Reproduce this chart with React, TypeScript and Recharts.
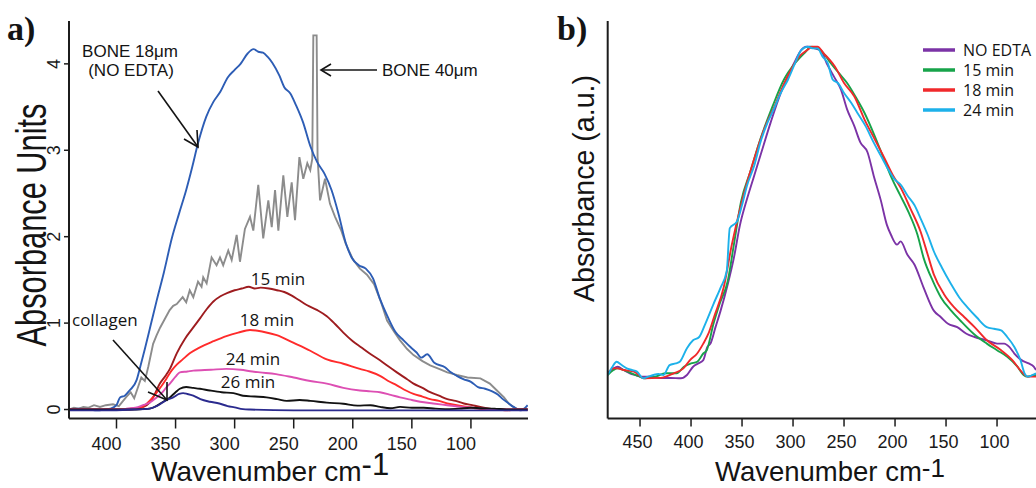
import React from 'react';
import { LineChart, Line, XAxis, YAxis } from 'recharts';

type Pt = [number, number];

// ---- panel a) absorbance units vs wavenumber (cm-1) ----
const bone18um: Pt[] = [
  [440, 0], [432, 0.01], [424, 0], [416, -0.01], [410, 0], [405, 0.01], [400, 0.05], [397, 0.14],
  [393, 0.16], [389, 0.22], [383, 0.34], [380, 0.49], [376, 0.7], [371, 0.98], [366, 1.26],
  [360, 1.58], [353, 1.99], [347, 2.27], [341, 2.54], [336, 2.8], [331, 3.08], [324, 3.39],
  [318, 3.56], [312, 3.68], [306, 3.84], [300, 3.93], [295, 4.0], [289, 4.12], [284, 4.17],
  [280, 4.14], [276, 4.13], [272, 4.08], [268, 4.01], [262, 3.86], [258, 3.73], [253, 3.66],
  [248, 3.52], [242, 3.32], [236, 3.05], [230, 2.86], [224, 2.73], [218, 2.54], [212, 2.26],
  [206, 1.93], [201, 1.76], [195, 1.67], [189, 1.63], [183, 1.52], [177, 1.28], [170, 1.06],
  [164, 0.9], [157, 0.8], [151, 0.72], [146, 0.66], [142, 0.6], [137, 0.64], [131, 0.54],
  [122, 0.49], [117, 0.43], [112, 0.39], [106, 0.35], [100, 0.32], [94, 0.26], [88, 0.24],
  [82, 0.21], [77, 0.17], [73, 0.12], [68, 0.07], [64, 0.03], [58, -0.01], [54, 0.02], [52, 0.05],
];

const bone40um: Pt[] = [
  [440, 0], [436, 0.02], [432, 0.01], [428, 0.03], [424, 0.02], [419, 0.05], [414, 0.03],
  [409, 0.05], [403, 0.06], [398, 0.04], [392, 0.14], [388, 0.2], [385, 0.13], [379, 0.37],
  [376, 0.33], [373, 0.5], [369, 0.76], [366, 0.86], [363, 0.95], [359, 1.05], [355, 1.15],
  [352, 1.2], [349, 1.22], [344, 1.3], [341, 1.24], [338, 1.38], [335, 1.3], [331, 1.48],
  [328, 1.42], [326.6, 1.53], [323.7, 1.46], [319.5, 1.76], [315.3, 1.67], [312.4, 1.76],
  [309.7, 1.67], [305.4, 1.84], [302.5, 1.73], [298.3, 2.02], [295.5, 1.71], [291.3, 2.09],
  [287, 2.23], [284.2, 2.07], [280, 2.6], [275.8, 1.98], [271.5, 2.42], [268.6, 2.11],
  [265.8, 2.54], [263, 2.07], [258.8, 2.71], [255.4, 2.23], [251.7, 2.63], [248.9, 2.19],
  [245.2, 2.92], [241.9, 2.67], [238.5, 2.85], [236, 2.77], [234.3, 2.9], [233.4, 4.33],
  [230.6, 4.33], [229.8, 2.92], [227.7, 2.42], [223.5, 2.67], [219.3, 2.38], [215, 2.23],
  [210, 2.08], [206, 1.92], [200, 1.74], [194, 1.63], [188, 1.56], [182, 1.45], [176, 1.24],
  [171, 1.03], [165, 0.9], [160, 0.8], [154, 0.7], [148.6, 0.63], [141, 0.56], [134.5, 0.51],
  [127, 0.47], [120, 0.43], [112, 0.4], [103, 0.37], [92, 0.36], [84, 0.3], [78, 0.22],
  [72, 0.14], [68, 0.07], [64, 0.03], [60, 0], [52, 0],
];

const min15: Pt[] = [
  [440, 0], [400, 0], [389, 0], [383, 0.01], [377.5, 0.03], [372, 0.08], [369, 0.14],
  [363.3, 0.3], [358, 0.4], [354.8, 0.47], [349, 0.65], [342, 0.82], [335, 0.95], [329, 1.06],
  [323.7, 1.16], [318, 1.25], [312, 1.31], [306, 1.35], [300, 1.38], [294, 1.4], [288, 1.42],
  [283, 1.4], [278, 1.41], [271, 1.4], [264, 1.38], [258, 1.36], [252, 1.32], [246, 1.27],
  [239, 1.21], [230, 1.15], [222, 1.08], [215, 0.99], [208, 0.89], [200, 0.79], [193, 0.72],
  [186, 0.65], [177, 0.57], [170, 0.5], [162.7, 0.43], [154, 0.35], [148.6, 0.3], [141, 0.25],
  [134.5, 0.2], [127, 0.16], [120, 0.12], [113, 0.1], [106, 0.07], [99, 0.05], [92, 0.03],
  [84, 0.01], [78, 0], [52, 0],
];

const min18: Pt[] = [
  [440, 0], [397, 0], [388, 0.01], [380, 0.02], [376, 0.05], [372, 0.1], [368, 0.16],
  [364.7, 0.22], [361, 0.29], [357.6, 0.36], [353.4, 0.45], [349, 0.52], [344, 0.58], [338, 0.65],
  [329.4, 0.72], [318, 0.79], [307, 0.85], [297, 0.89], [287, 0.92], [276, 0.9], [264.4, 0.86],
  [250, 0.77], [236, 0.68], [222, 0.58], [208, 0.53], [194, 0.47], [186, 0.44], [177, 0.39],
  [170, 0.33], [162.7, 0.28], [155, 0.22], [148.6, 0.18], [141, 0.15], [134.5, 0.12], [127, 0.1],
  [120, 0.07], [112, 0.05], [103, 0.03], [94, 0.01], [86, 0], [76, 0], [70, -0.01], [62, 0], [52, 0],
];

const min24: Pt[] = [
  [440, 0], [395, 0], [391.5, 0.01], [384, 0.02], [377.5, 0.05], [372, 0.08], [366, 0.14],
  [361, 0.2], [357.6, 0.26], [354.8, 0.3], [350, 0.38], [346.4, 0.43], [340, 0.44], [335, 0.45],
  [320, 0.46], [307, 0.47], [295, 0.46], [285, 0.44], [278.6, 0.43], [265, 0.41], [250, 0.37],
  [236, 0.33], [222, 0.3], [208, 0.25], [194, 0.22], [185, 0.21], [177, 0.2], [168, 0.17],
  [160, 0.14], [150, 0.11], [143, 0.09], [132, 0.07], [120, 0.05], [108, 0.03], [97.5, 0.02],
  [88, 0.01], [80, 0], [52, 0],
];

const min26: Pt[] = [
  [440, 0], [386, 0], [378, 0.005], [372, 0.01], [367, 0.035], [363.3, 0.066], [358, 0.11],
  [354.8, 0.14], [350, 0.2], [346.4, 0.24], [341, 0.26], [335, 0.25], [329.4, 0.24], [321, 0.22],
  [311, 0.2], [301, 0.19], [293, 0.16], [283, 0.15], [273, 0.14], [264, 0.12], [256, 0.1],
  [245, 0.11], [236, 0.1], [222, 0.08], [208, 0.066], [196, 0.045], [185, 0.05], [177, 0.03],
  [168, 0.015], [160, 0.03], [150, 0.02], [140, 0.02], [130, 0.01], [120, 0.005], [110, 0.01],
  [100, 0.02], [92, 0.015], [80, 0.01], [70, 0], [52, 0],
];

const collagen: Pt[] = [
  [440, -0.01], [414, -0.01], [385, 0], [372, 0.01], [366, 0.04], [360.5, 0.085], [356, 0.12],
  [352, 0.14], [347, 0.18], [343.6, 0.19], [340, 0.18], [335, 0.16], [329, 0.12], [321, 0.09],
  [313, 0.07], [306, 0.04], [300, 0.025], [293, 0.005], [287, 0], [250, -0.01], [200, -0.01],
  [150, -0.01], [100, -0.01], [52, -0.01],
];

// ---- panel b) normalised absorbance (a.u.) ----
const noEdta: Pt[] = [
  [481.7, 0.01], [476, 0.025], [472, 0.03], [466, 0.02], [460, 0.01], [455, 0.005], [449, 0],
  [440, 0], [430, -0.004], [420, -0.004], [410, -0.005], [404, 0.005], [398, 0.03], [393, 0.04],
  [388, 0.05], [384, 0.09], [381, 0.1], [376, 0.15], [371, 0.2], [364, 0.28], [358, 0.36],
  [352, 0.46], [345, 0.54], [339, 0.6], [332, 0.67], [322, 0.77], [312, 0.86], [305, 0.91],
  [299, 0.95], [292, 0.99], [287, 1.0], [283, 1.0], [279, 0.995], [273, 0.99], [267, 0.95],
  [260, 0.91], [253, 0.87], [247, 0.81], [240, 0.76], [234, 0.71], [227, 0.68], [221, 0.61],
  [214, 0.535], [208, 0.46], [204, 0.43], [198, 0.4], [194.5, 0.41], [188, 0.37], [181, 0.34],
  [172, 0.27], [162, 0.2], [155, 0.18], [148, 0.16], [139, 0.15], [130, 0.13], [122, 0.12],
  [110, 0.11], [100, 0.1], [93, 0.1], [88, 0.09], [83, 0.07], [76, 0.05], [69, 0.04], [64, 0.03],
  [61.8, 0.02],
];

const edta15: Pt[] = [
  [481.7, 0.005], [476, 0.02], [472, 0.025], [466, 0.02], [460, 0.012], [452, 0.002], [445, -0.005],
  [435, 0], [425, 0.01], [414, 0.01], [407, 0.03], [400, 0.04], [394, 0.045], [388, 0.07],
  [384.6, 0.08], [378, 0.16], [372, 0.22], [364, 0.29], [358, 0.4], [351, 0.53], [342, 0.62],
  [332, 0.72], [320, 0.82], [309, 0.9], [298, 0.95], [289, 0.98], [282, 1.0], [276, 0.995],
  [270, 0.98], [263, 0.95], [255, 0.92], [247, 0.89], [239, 0.85], [230, 0.8], [220, 0.73],
  [211, 0.66], [203, 0.6], [195, 0.55], [187, 0.5], [178, 0.43], [172, 0.36], [163, 0.29],
  [155, 0.24], [145, 0.2], [136, 0.17], [123, 0.13], [110, 0.1], [100, 0.08], [90, 0.06],
  [80, 0.03], [74, 0.005], [70, 0], [66, 0.003], [61.8, 0.005],
];

const edta18: Pt[] = [
  [481.7, 0.01], [476, 0.025], [472, 0.025], [466, 0.02], [456, 0.015], [446, -0.005], [430, -0.004],
  [417, 0.01], [407.5, 0.025], [401, 0.05], [394, 0.07], [388, 0.1], [383, 0.13], [377.5, 0.18],
  [368, 0.27], [360, 0.4], [351, 0.52], [343, 0.61], [335, 0.69], [327, 0.76], [318, 0.82],
  [310, 0.88], [302, 0.93], [294, 0.97], [286, 0.99], [281, 1.0], [276, 1.0], [270, 0.98],
  [264, 0.96], [259, 0.94], [250, 0.89], [240, 0.85], [230, 0.78], [220, 0.72], [210, 0.66],
  [202, 0.61], [194, 0.57], [185, 0.51], [175, 0.44], [168, 0.37], [162, 0.31], [152, 0.25],
  [142, 0.21], [132, 0.18], [122, 0.15], [110, 0.11], [96, 0.08], [85, 0.05], [76, 0.015],
  [70, 0], [61.8, 0],
];

const edta24: Pt[] = [
  [481.7, 0.005], [477, 0.03], [473, 0.045], [468, 0.035], [463, 0.025], [458, 0.02], [453, 0.015],
  [447, -0.005], [442, 0], [437, 0.005], [432, 0.008], [427, 0.005], [421, 0.035], [415, 0.04],
  [411, 0.045], [404, 0.086], [398, 0.11], [392, 0.12], [386, 0.16], [378, 0.22], [371, 0.27],
  [365, 0.32], [362, 0.45], [355, 0.47], [350, 0.52], [345, 0.58], [338, 0.64], [332, 0.71],
  [325, 0.77], [319, 0.81], [312, 0.86], [305, 0.9], [298, 0.95], [292, 0.99], [286, 1.0],
  [280, 0.995], [276, 0.995], [271, 0.97], [266, 0.95], [261, 0.9], [256, 0.89], [250, 0.86],
  [243, 0.83], [237, 0.8], [229, 0.76], [221, 0.71], [214, 0.67], [207, 0.63], [201, 0.6],
  [194, 0.58], [188, 0.55], [181, 0.52], [175, 0.48], [168, 0.43], [162, 0.38], [154, 0.33],
  [145, 0.28], [137, 0.24], [129, 0.21], [120, 0.18], [110, 0.15], [103, 0.145], [96, 0.14],
  [90, 0.12], [83, 0.09], [77, 0.05], [73, 0.01], [70, 0], [65, 0.005], [61.8, 0.01],
];

// axis ticks and visible ranges
const wnTicksA = [400, 350, 300, 250, 200, 150, 100];
const absTicksA = [0, 1, 2, 3, 4];
const wnTicksB = [450, 400, 350, 300, 250, 200, 150, 100];
const wnRangeA: [number, number] = [51.7, 440.2];
const absRangeA: [number, number] = [-0.104, 4.496];
const wnRangeB: [number, number] = [61.8, 481.7];
const absRangeB: [number, number] = [-0.127, 1.078];

const SANS = '"Liberation Sans", Arial, Helvetica, sans-serif';
const LABEL = '"Open Sans", "Noto Sans", sans-serif';
const SERIF = '"Liberation Serif", "Times New Roman", serif';
const AXIS = '#1c1c1c';

const seriesA = [
  { name: 'BONE 40μm', pts: bone40um, color: '#8c8c8c', curve: 'linear' },
  { name: 'BONE 18μm (NO EDTA)', pts: bone18um, color: '#2d5db5', curve: 'monotone' },
  { name: '15 min', pts: min15, color: '#9e1c1f', curve: 'monotone' },
  { name: '18 min', pts: min18, color: '#ff2b2b', curve: 'monotone' },
  { name: '24 min', pts: min24, color: '#dd4fb3', curve: 'monotone' },
  { name: '26 min', pts: min26, color: '#121212', curve: 'monotone' },
  { name: 'collagen', pts: collagen, color: '#2a2a8e', curve: 'monotone' },
];

const seriesB = [
  { name: 'NO EDTA', pts: noEdta, color: '#7b33a6' },
  { name: '15 min', pts: edta15, color: '#17a34a' },
  { name: '18 min', pts: edta18, color: '#f0292b' },
  { name: '24 min', pts: edta24, color: '#1db1ea' },
];

const toRows = (pts: Pt[]) => pts.map(([wn, abs]) => ({ wn, abs }));

function WnTick({ x, y, payload, shift }: any) {
  return (
    <text x={x + shift} y={y + 19} textAnchor="middle" fontSize={18} fontFamily={SANS} fill="#1a1a1a">
      {payload.value}
    </text>
  );
}

function AbsTick({ x, y, payload }: any) {
  const bx = x - 1.5;
  return (
    <text
      x={bx}
      y={y}
      transform={`rotate(-90 ${bx} ${y})`}
      textAnchor="middle"
      fontSize={18}
      fontFamily={SANS}
      fill="#1a1a1a"
    >
      {payload.value}
    </text>
  );
}

function PanelA() {
  return (
    <LineChart width={540} height={488} margin={{ top: 21, right: 12, bottom: 39.5, left: 0 }}>
      <XAxis
        dataKey="wn"
        type="number"
        domain={wnRangeA}
        reversed
        allowDataOverflow
        ticks={wnTicksA}
        interval={0}
        height={30}
        tickSize={10}
        tickMargin={2}
        axisLine={{ stroke: AXIS, strokeWidth: 2 }}
        tickLine={{ stroke: AXIS, strokeWidth: 1.5 }}
        tick={(p: any) => <WnTick {...p} shift={-10} />}
      />
      <XAxis
        xAxisId="top"
        orientation="top"
        dataKey="wn"
        type="number"
        domain={wnRangeA}
        reversed
        allowDataOverflow
        height={0}
        tick={false}
        tickLine={false}
        axisLine={{ stroke: AXIS, strokeWidth: 2 }}
      />
      <YAxis
        type="number"
        domain={absRangeA}
        allowDataOverflow
        ticks={absTicksA}
        interval={0}
        width={69}
        tickSize={5}
        tickMargin={2}
        axisLine={{ stroke: AXIS, strokeWidth: 2 }}
        tickLine={{ stroke: AXIS, strokeWidth: 1.5 }}
        tick={(p: any) => <AbsTick {...p} />}
      />
      <YAxis
        yAxisId="right"
        orientation="right"
        type="number"
        domain={absRangeA}
        allowDataOverflow
        width={0}
        tick={false}
        tickLine={false}
        axisLine={{ stroke: AXIS, strokeWidth: 2 }}
      />
      {seriesA.map((s) => (
        <Line
          key={s.name}
          name={s.name}
          data={toRows(s.pts)}
          dataKey="abs"
          type={s.curve as any}
          stroke={s.color}
          strokeWidth={1.9}
          dot={false}
          activeDot={false}
          isAnimationActive={false}
        />
      ))}
    </LineChart>
  );
}

function PanelB() {
  return (
    <LineChart width={496} height={488} margin={{ top: 21, right: 0, bottom: 39.5, left: 0 }}>
      <XAxis
        dataKey="wn"
        type="number"
        domain={wnRangeB}
        reversed
        allowDataOverflow
        ticks={wnTicksB}
        interval={0}
        height={30}
        tickSize={8}
        tickMargin={2}
        axisLine={{ stroke: AXIS, strokeWidth: 2 }}
        tickLine={{ stroke: AXIS, strokeWidth: 1.5 }}
        tick={(p: any) => <WnTick {...p} shift={-2.5} />}
      />
      <XAxis
        xAxisId="top"
        orientation="top"
        dataKey="wn"
        type="number"
        domain={wnRangeB}
        reversed
        allowDataOverflow
        height={0}
        tick={false}
        tickLine={false}
        axisLine={{ stroke: AXIS, strokeWidth: 2 }}
      />
      <YAxis
        type="number"
        domain={absRangeB}
        allowDataOverflow
        width={67.7}
        tick={false}
        tickLine={false}
        axisLine={{ stroke: AXIS, strokeWidth: 2 }}
      />
      {seriesB.map((s) => (
        <Line
          key={s.name}
          name={s.name}
          data={toRows(s.pts)}
          dataKey="abs"
          type="monotone"
          stroke={s.color}
          strokeWidth={1.9}
          dot={false}
          activeDot={false}
          isAnimationActive={false}
        />
      ))}
    </LineChart>
  );
}

// text, arrows and legend drawn over both panels
function Annotations() {
  const ink = '#141414';
  return (
    <svg width={1036} height={488} style={{ position: 'absolute', left: 0, top: 0, pointerEvents: 'none' }}>
      <text x={7} y={40} fontFamily={SERIF} fontWeight="bold" fontSize={34} fill={ink}>a)</text>
      <text x={557} y={40} fontFamily={SERIF} fontWeight="bold" fontSize={34} fill={ink}>b)</text>

      <text x={46} y={225} transform="rotate(-90 46 225)" textAnchor="middle" fontFamily={SANS}
        fontSize={42} textLength={243} lengthAdjust="spacingAndGlyphs" fill={ink}>Absorbance Units</text>
      <text x={593.5} y={188.5} transform="rotate(-90 593.5 188.5)" textAnchor="middle" fontFamily={SANS}
        fontSize={30} textLength={227} lengthAdjust="spacingAndGlyphs" fill={ink}>Absorbance (a.u.)</text>

      <text x={151} y={481} fontFamily={SANS} fontSize={28} fill={ink}>
        Wavenumber cm<tspan dy={-6} fontSize={31}>-1</tspan>
      </text>
      <text x={715} y={481} fontFamily={SANS} fontSize={27.5} fill={ink}>
        Wavenumber cm<tspan dy={-4} fontSize={26}>-1</tspan>
      </text>

      <text x={130} y={57} textAnchor="middle" fontFamily={SANS} fontSize={17} fill={ink}>BONE 18μm</text>
      <text x={131} y={76} textAnchor="middle" fontFamily={SANS} fontSize={17} fill={ink}>(NO EDTA)</text>
      <line x1={158} y1={91} x2={198} y2={147} stroke={ink} strokeWidth={1.6} />
      <polyline points="184,139 198,147 197,130" fill="none" stroke={ink} strokeWidth={1.6} />

      <text x={382} y={76} fontFamily={SANS} fontSize={17} fill={ink}>BONE 40μm</text>
      <line x1={377} y1={70} x2={321} y2={70} stroke={ink} strokeWidth={1.6} />
      <polyline points="331,64 321,70 331,76" fill="none" stroke={ink} strokeWidth={1.6} />

      <text x={278} y={285} textAnchor="middle" fontFamily={LABEL} fontSize={17} fill={ink}>15 min</text>
      <text x={267} y={326} textAnchor="middle" fontFamily={LABEL} fontSize={17} fill={ink}>18 min</text>
      <text x={253} y={365} textAnchor="middle" fontFamily={LABEL} fontSize={17} fill={ink}>24 min</text>
      <text x={248} y={388} textAnchor="middle" fontFamily={LABEL} fontSize={17} fill={ink}>26 min</text>
      <text x={72} y={326} fontFamily={LABEL} fontSize={17} fill={ink}>collagen</text>
      <line x1={113} y1={340} x2={167} y2={400} stroke={ink} strokeWidth={1.6} />
      <polyline points="148,392 167,400 167,382" fill="none" stroke={ink} strokeWidth={1.6} />

      {seriesB.map((s, i) => (
        <g key={s.name}>
          <line x1={923} y1={50 + i * 20} x2={955} y2={50 + i * 20} stroke={s.color} strokeWidth={3.5} />
          <text x={963} y={55.5 + i * 20} fontFamily={LABEL} fontSize={16} fill={ink}>{s.name}</text>
        </g>
      ))}
    </svg>
  );
}

export default function App() {
  return (
    <div style={{ position: 'absolute', left: 0, top: 0, width: 1036, height: 488, overflow: 'hidden', background: '#fff' }}>
      <div style={{ position: 'absolute', left: 0, top: 0 }}>
        <PanelA />
      </div>
      <div style={{ position: 'absolute', left: 540, top: 0 }}>
        <PanelB />
      </div>
      <Annotations />
    </div>
  );
}
